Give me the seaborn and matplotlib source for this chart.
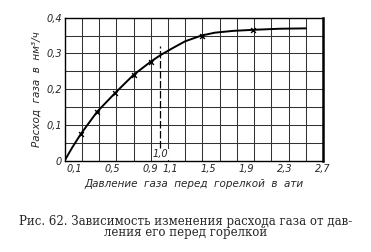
import numpy as np
import pandas as pd
import matplotlib
matplotlib.use("Agg")
import matplotlib.pyplot as plt
import seaborn as sns

# Data
curve_x = [0.0, 0.08, 0.17, 0.34, 0.53, 0.72, 0.90, 1.00, 1.13, 1.26, 1.43, 1.57, 1.76, 1.97, 2.25, 2.52]
curve_y = [0.0, 0.037, 0.075, 0.137, 0.190, 0.240, 0.277, 0.295, 0.315, 0.334, 0.350, 0.358, 0.363, 0.366, 0.369, 0.370]
point_x = [0.17, 0.34, 0.53, 0.72, 0.90, 1.43, 1.97]
point_y = [0.075, 0.137, 0.190, 0.240, 0.277, 0.350, 0.366]
xtick_values = [0.1, 0.5, 0.9, 1.1, 1.5, 1.9, 2.3, 2.7]
xtick_labels = ["0,1", "0,5", "0,9", "1,1", "1,5", "1,9", "2,3", "2,7"]
ytick_values = [0.0, 0.1, 0.2, 0.3, 0.4]
ytick_labels = ["0", "0,1", "0,2", "0,3", "0,4"]
marker_line_x = 1.0
marker_line_span = [0.035, 0.32]
marker_label = "1,0"
xlabel = "Давление  газа  перед  горелкой  в  ати"
ylabel = "Расход  газа  в  нм³/ч"
caption = "Рис. 62. Зависимость изменения расхода газа от дав-\nления его перед горелкой"

sns.set_style("white")
plt.rcParams["font.family"] = ["DejaVu Sans"]

fig = plt.figure(figsize=(3.71, 2.52), dpi=100)
ax = fig.add_axes([0.174, 0.362, 0.697, 0.568])

curve = pd.DataFrame({"x": curve_x, "y": curve_y})
pts = pd.DataFrame({"x": point_x, "y": point_y})

# grid
for gx in np.linspace(0, 2.7, 16)[1:-1]:
    ax.axvline(gx, color="#333333", lw=0.75, zorder=1)
for gy in np.arange(0.05, 0.4, 0.05):
    ax.axhline(gy, color="#333333", lw=0.75, zorder=1)

sns.lineplot(data=curve, x="x", y="y", ax=ax, color="black", lw=1.4, zorder=3, sort=True)
sns.scatterplot(data=pts, x="x", y="y", ax=ax, color="black", marker="x", s=12, linewidth=1.0, zorder=4)

ax.plot([marker_line_x, marker_line_x], marker_line_span, color="black", lw=0.9, ls=(0, (6, 2)), zorder=2)
ax.text(marker_line_x, 0.004, marker_label, fontsize=7, style="italic", ha="center", va="bottom",
        bbox=dict(facecolor="white", edgecolor="none", pad=0.5), zorder=5)

ax.set_xlim(0, 2.7)
ax.set_ylim(0, 0.4)
ax.set_xticks(xtick_values)
ax.set_xticklabels(xtick_labels, fontsize=7, style="italic")
ax.set_yticks(ytick_values)
ax.set_yticklabels(ytick_labels, fontsize=7, style="italic")
ax.tick_params(axis="both", length=0, pad=2)
ax.set_xlabel(xlabel, fontsize=7.5, style="italic", labelpad=4)
ax.set_ylabel(ylabel, fontsize=7.5, style="italic", labelpad=3)
for side, sp in ax.spines.items():
    sp.set_visible(True)
    sp.set_color("black")
    sp.set_linewidth(1.0)
ax.spines["right"].set_linewidth(1.8)

fig.text(0.5, 0.05, caption, ha="center", va="bottom", fontsize=8.5,
         family="DejaVu Serif", linespacing=0.85)

fig.savefig("out.png", dpi=100)
